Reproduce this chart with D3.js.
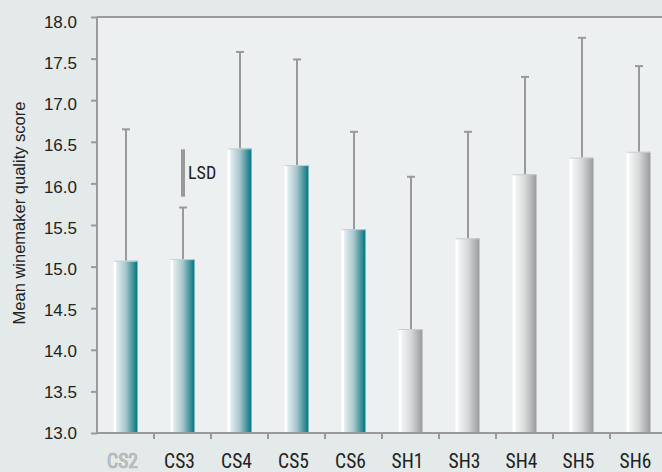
<!DOCTYPE html>
<html>
<head>
<meta charset="utf-8">
<script src="https://cdn.jsdelivr.net/npm/d3@7"></script>
<style>
  html, body { margin: 0; padding: 0; background: #e3eae9; }
  svg { display: block; }
</style>
</head>
<body>
<svg id="chart" width="662" height="472"></svg>
<script>
// Wine treatments (Cabernet Sauvignon and Shiraz)
const categories = ["CS2", "CS3", "CS4", "CS5", "CS6", "SH1", "SH3", "SH4", "SH5", "SH6"];
const meanScores = [15.07, 15.09, 16.42, 16.22, 15.45, 14.25, 15.34, 16.11, 16.31, 16.38];
const errorTops  = [16.65, 15.71, 17.58, 17.49, 16.62, 16.08, 16.62, 17.28, 17.75, 17.41];
const yTicks = [13.0, 13.5, 14.0, 14.5, 15.0, 15.5, 16.0, 16.5, 17.0, 17.5, 18.0];
const lsd = { category: "CS3", low: 15.84, high: 16.41, label: "LSD" };

const svg = d3.select("#chart");
const W = 662, H = 472;
const plotLeft = 97, plotTop = 17, plotBottom = 433;
const regular = '"Liberation Sans", Arial, sans-serif';
const narrow = '"Roboto Condensed", "Liberation Sans Narrow", "Arial Narrow", sans-serif';

const x = d3.scaleBand()
  .domain(categories)
  .range([plotLeft, plotLeft + 57 * categories.length])
  .paddingInner(0.58)
  .paddingOuter(0.29);
const xTicks = d3.scaleBand().domain(categories).range(x.range()).padding(0);
const y = d3.scaleLinear().domain([13, 18]).range([plotBottom, plotTop]);
// tick labels are set slightly tighter than the ticks themselves
const yLabel = d3.scaleLinear().domain([13, 18]).range([plotBottom + 0.5, plotTop + 5]);

const defs = svg.append("defs");
function grad(id, stops) {
  const g = defs.append("linearGradient").attr("id", id)
    .attr("x1", "0%").attr("x2", "100%").attr("y1", "0%").attr("y2", "0%");
  stops.forEach(([o, c]) => g.append("stop").attr("offset", o).attr("stop-color", c));
}
grad("gTeal", [[0, "#ffffff"], [0.09, "#ffffff"], [0.13, "#e2edef"], [0.5, "#a9c7cc"], [0.8, "#47959d"], [1, "#007882"]]);
grad("gGrey", [[0, "#ffffff"], [0.09, "#ffffff"], [0.13, "#f3f4f4"], [0.5, "#d9dadb"], [0.85, "#adaeb0"], [1, "#98999b"]]);

// plot area
svg.append("rect").attr("x", plotLeft).attr("y", plotTop)
  .attr("width", W - plotLeft).attr("height", plotBottom - plotTop)
  .attr("fill", "#ecf0f1");

const grey = "#9a9a9a";

// error bars
const eb = svg.append("g");
categories.forEach((c, i) => {
  const cx = Math.round(x(c) + x.bandwidth() / 2);
  eb.append("line").attr("x1", cx).attr("x2", cx)
    .attr("y1", y(meanScores[i])).attr("y2", y(errorTops[i]))
    .attr("stroke", grey).attr("stroke-width", 2);
  eb.append("line").attr("x1", cx - 4).attr("x2", cx + 4)
    .attr("y1", y(errorTops[i])).attr("y2", y(errorTops[i]))
    .attr("stroke", grey).attr("stroke-width", 2);
});

// bars
svg.append("g").selectAll("rect").data(categories).join("rect")
  .attr("x", d => x(d))
  .attr("width", x.bandwidth())
  .attr("y", (d, i) => y(meanScores[i]))
  .attr("height", (d, i) => plotBottom - y(meanScores[i]))
  .attr("fill", d => d.startsWith("CS") ? "url(#gTeal)" : "url(#gGrey)");
svg.append("g").selectAll("line").data(categories).join("line")
  .attr("x1", d => x(d)).attr("x2", d => x(d) + x.bandwidth())
  .attr("y1", (d, i) => y(meanScores[i]) + 0.5).attr("y2", (d, i) => y(meanScores[i]) + 0.5)
  .attr("stroke", "#c9cfd0").attr("stroke-width", 1);

// LSD marker
const lx = Math.round(x(lsd.category) + x.bandwidth() / 2);
svg.append("line").attr("x1", lx).attr("x2", lx)
  .attr("y1", y(lsd.high)).attr("y2", y(lsd.low))
  .attr("stroke", grey).attr("stroke-width", 4);
svg.append("text").attr("x", lx + 5).attr("y", (y(lsd.high) + y(lsd.low)) / 2 + 6)
  .style("font-family", narrow).style("font-size", "18px")
  .attr("fill", "#222").text(lsd.label);

// frame: top line, y axis, x axis
svg.append("line").attr("x1", plotLeft).attr("x2", W).attr("y1", plotTop).attr("y2", plotTop)
  .attr("stroke", grey).attr("stroke-width", 2);

const yAxis = svg.append("g").attr("transform", `translate(${plotLeft},0)`)
  .call(d3.axisLeft(y).tickValues(yTicks).tickFormat(d3.format(".1f")).tickSize(6).tickPadding(14));
yAxis.select(".domain").attr("stroke", grey).attr("stroke-width", 2).attr("d", `M0,${plotTop}V${plotBottom}`);
yAxis.selectAll(".tick line").attr("stroke", grey).attr("stroke-width", 2);
yAxis.selectAll(".tick text")
  .style("font-family", regular).style("font-size", "17px")
  .attr("fill", "#222")
  .attr("y", d => yLabel(d) - y(d));

const xAxis = svg.append("g").attr("transform", `translate(0,${plotBottom})`)
  .call(d3.axisBottom(xTicks).tickSize(0).tickPadding(21));
xAxis.select(".domain").attr("stroke", grey).attr("stroke-width", 2).attr("d", `M${plotLeft},0H${W}`);
xAxis.selectAll(".tick text")
  .style("font-family", narrow).style("font-size", "19.5px")
  .attr("fill", "#222").attr("dx", -3);
xAxis.selectAll(".tick text").filter(d => d === "CS2")
  .attr("fill", "#cdd1d1").attr("stroke", "#a3a6a6").attr("stroke-width", 0.7);
// boundary ticks between categories
xAxis.append("g").selectAll("line").data(categories.slice(1)).join("line")
  .attr("x1", d => xTicks(d)).attr("x2", d => xTicks(d))
  .attr("y1", 0).attr("y2", 6)
  .attr("stroke", grey).attr("stroke-width", 2);

// y axis title
svg.append("text")
  .attr("transform", "translate(25,213) rotate(-90)")
  .attr("text-anchor", "middle")
  .style("font-family", regular).style("font-size", "16.5px")
  .attr("fill", "#222")
  .text("Mean winemaker quality score");
</script>
</body>
</html>
